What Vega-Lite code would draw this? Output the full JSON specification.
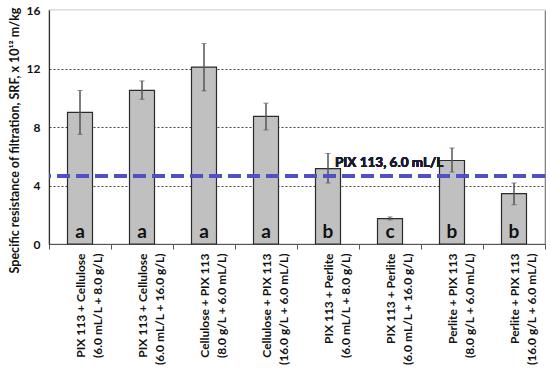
{
  "$schema": "https://vega.github.io/schema/vega-lite/v6.json",
  "width": 496,
  "height": 234,
  "autosize": {"type": "none"},
  "padding": {"left": 49, "top": 10, "right": 5, "bottom": 124},
  "background": "white",
  "config": {
    "view": {"stroke": "#7a7a7a", "strokeWidth": 1.2},
    "font": "Lato"
  },
  "data": {
    "values": [
      {"label": "PIX 113 + Cellulose|(6.0 mL/L + 8.0 g/L)", "srf": 9.0, "lo": 7.5, "hi": 10.5, "group": "a"},
      {"label": "PIX 113 + Cellulose|(6.0 mL/L + 16.0 g/L)", "srf": 10.5, "lo": 9.9, "hi": 11.15, "group": "a"},
      {"label": "Cellulose + PIX 113|(8.0 g/L + 6.0 mL/L)", "srf": 12.1, "lo": 10.47, "hi": 13.7, "group": "a"},
      {"label": "Cellulose + PIX 113|(16.0 g/L + 6.0 mL/L)", "srf": 8.72, "lo": 7.8, "hi": 9.63, "group": "a"},
      {"label": "PIX 113 + Perlite|(6.0 mL/L + 8.0 g/L)", "srf": 5.16, "lo": 4.17, "hi": 6.19, "group": "b"},
      {"label": "PIX 113 + Perlite|(6.0 mL/L + 16.0 g/L)", "srf": 1.73, "lo": 1.65, "hi": 1.85, "group": "c"},
      {"label": "Perlite + PIX 113|(8.0 g/L + 6.0 mL/L)", "srf": 5.71, "lo": 4.92, "hi": 6.56, "group": "b"},
      {"label": "Perlite + PIX 113|(16.0 g/L + 6.0 mL/L)", "srf": 3.44, "lo": 2.68, "hi": 4.17, "group": "b"}
    ]
  },
  "layer": [
    {
      "mark": {"type": "bar", "fill": "#c0c0c0", "stroke": "#2b2b2b", "strokeWidth": 1.2, "width": 25},
      "encoding": {
        "x": {
          "field": "label", "type": "nominal", "sort": null,
          "scale": {"paddingInner": 0, "paddingOuter": 0},
          "axis": {
            "title": null,
            "labelAngle": -90,
            "labelExpr": "split(datum.label, '|')",
            "labelFont": "Lato",
            "labelFontWeight": "bold",
            "labelFontSize": 12,
            "labelLineHeight": 17,
            "labelColor": "#111",
            "labelPadding": 4,
            "tickBand": "extent",
            "tickSize": 5,
            "tickColor": "#555",
            "domainColor": "#555",
            "domainWidth": 1.2
          }
        },
        "y": {
          "field": "srf", "type": "quantitative",
          "title": "Specific resistance of filtration, SRF, x 10¹² m/kg",
          "scale": {"domain": [0, 16], "nice": false},
          "axis": {
            "titleFont": "Lato",
            "titleFontWeight": "bold",
            "titleFontSize": 12.5,
            "titleColor": "#111",
            "titlePadding": 5,
            "titleY": 130,
            "values": [0,1,2,3,4,5,6,7,8,9,10,11,12,13,14,15,16],
            "labelExpr": "datum.value % 4 === 0 ? datum.label : ''",
            "labelFont": "Lato",
            "labelFontWeight": "bold",
            "labelFontSize": 12,
            "labelColor": "#111",
            "labelPadding": 9,
            "ticks": false,
            "domainColor": "#333",
            "domainWidth": 1.2,
            "grid": true,
            "gridColor": {"condition": {"test": "datum.value % 4 === 0 && datum.value < 16", "value": "#444"}, "value": "#ececec"},
            "gridDash": {"condition": {"test": "datum.value % 4 === 0 && datum.value < 16", "value": [2, 2]}, "value": []},
            "gridWidth": 1
          }
        }
      }
    },
    {
      "mark": {"type": "errorbar", "ticks": {"size": 5, "color": "#555"}, "rule": {"color": "#555", "strokeWidth": 1.5}},
      "encoding": {
        "x": {"field": "label", "type": "nominal", "sort": null},
        "y": {"field": "lo", "type": "quantitative", "title": "Specific resistance of filtration, SRF, x 10¹² m/kg"},
        "y2": {"field": "hi"}
      }
    },
    {
      "mark": {"type": "text", "font": "Lato", "fontWeight": "bold", "fontSize": 19, "baseline": "alphabetic", "dy": -6, "color": "#111"},
      "encoding": {
        "x": {"field": "label", "type": "nominal", "sort": null},
        "y": {"datum": 0},
        "text": {"field": "group"}
      }
    },
    {
      "mark": {"type": "rule", "color": "#4f4fc8", "strokeWidth": 4, "strokeDash": [13, 6]},
      "encoding": {"y": {"datum": 4.65}}
    },
    {
      "mark": {"type": "text", "font": "Lato", "fontWeight": "bold", "fontSize": 13.5, "align": "left", "baseline": "alphabetic", "dx": 7, "dy": -9, "color": "#1a1a33", "text": "PIX 113, 6.0 mL/L"},
      "encoding": {
        "x": {"datum": "PIX 113 + Perlite|(6.0 mL/L + 8.0 g/L)"},
        "y": {"datum": 4.65}
      }
    }
  ]
}
